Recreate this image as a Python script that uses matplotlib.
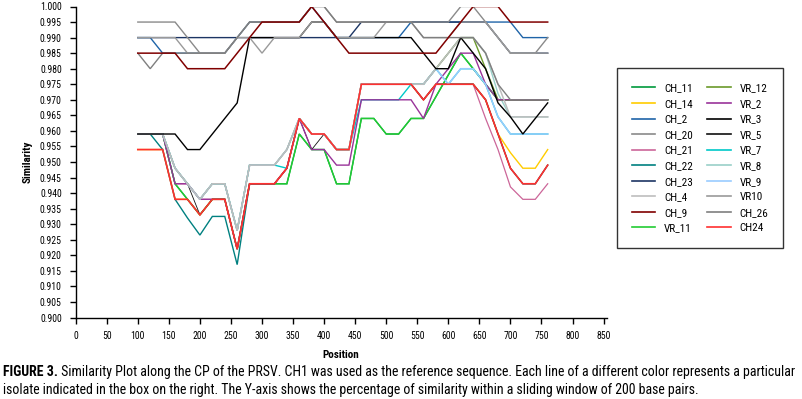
import matplotlib
matplotlib.use("Agg")
import matplotlib.pyplot as plt
from matplotlib import font_manager as fm
from matplotlib.lines import Line2D
import numpy as np

# ---------------- data ----------------
positions = [100, 120, 140, 160, 180, 200, 220, 240, 260, 280, 300, 320, 340, 360, 380, 400, 420,
             440, 460, 480, 500, 520, 540, 560, 580, 600, 620, 640, 660, 680, 700, 720, 740, 760]

CH_11 = [0.959, 0.959, 0.959, 0.943, 0.938, 0.933, 0.938, 0.938, 0.922, 0.943, 0.943, 0.943, 0.943, 0.959, 0.954, 0.954, 0.943,
         0.943, 0.964, 0.964, 0.959, 0.959, 0.964, 0.964, 0.971, 0.978, 0.985, 0.980, 0.975, 0.970, 0.970, 0.970, 0.970, 0.970]
CH_14 = [0.954, 0.954, 0.954, 0.938, 0.938, 0.933, 0.938, 0.938, 0.922, 0.943, 0.943, 0.943, 0.948, 0.964, 0.959, 0.959, 0.954,
         0.954, 0.975, 0.975, 0.975, 0.975, 0.975, 0.970, 0.975, 0.975, 0.975, 0.975, 0.970, 0.959, 0.953, 0.948, 0.948, 0.954]
CH_2 = [0.990, 0.990, 0.985, 0.985, 0.985, 0.985, 0.985, 0.985, 0.990, 0.995, 0.995, 0.995, 0.995, 0.995, 1.000, 0.995, 0.990,
        0.990, 0.990, 0.990, 0.990, 0.990, 0.995, 0.995, 0.995, 0.995, 0.995, 0.995, 0.995, 0.995, 0.995, 0.990, 0.990, 0.990]
CH_20 = [0.995, 0.995, 0.995, 0.995, 0.990, 0.985, 0.985, 0.985, 0.990, 0.995, 0.995, 0.995, 0.995, 0.995, 1.000, 1.000, 0.995,
         0.995, 0.995, 0.995, 0.995, 0.995, 0.995, 0.995, 0.995, 0.995, 1.000, 1.000, 0.995, 0.990, 0.985, 0.985, 0.985, 0.990]
CH_21 = [0.959, 0.959, 0.959, 0.943, 0.943, 0.938, 0.938, 0.938, 0.922, 0.943, 0.943, 0.943, 0.948, 0.964, 0.959, 0.959, 0.954,
         0.954, 0.975, 0.975, 0.975, 0.975, 0.975, 0.970, 0.975, 0.975, 0.975, 0.975, 0.964, 0.954, 0.942, 0.938, 0.938, 0.943]
CH_22 = [0.959, 0.959, 0.954, 0.938, 0.932, 0.9265, 0.9325, 0.9325, 0.917, 0.943, 0.943, 0.943, 0.948, 0.964, 0.959, 0.959, 0.954,
         0.954, 0.975, 0.975, 0.975, 0.975, 0.975, 0.970, 0.975, 0.975, 0.975, 0.975, 0.970, 0.959, 0.948, 0.943, 0.943, 0.949]
CH_23 = [0.990, 0.990, 0.990, 0.990, 0.990, 0.990, 0.990, 0.990, 0.990, 0.990, 0.990, 0.990, 0.990, 0.990, 0.990, 0.990, 0.990,
         0.990, 0.995, 0.995, 0.995, 0.995, 0.995, 0.995, 0.995, 0.995, 0.995, 0.995, 0.995, 0.990, 0.985, 0.985, 0.985, 0.985]
CH_4 = [0.959, 0.959, 0.959, 0.948, 0.943, 0.938, 0.943, 0.943, 0.928, 0.949, 0.949, 0.949, 0.954, 0.964, 0.959, 0.959, 0.954,
        0.954, 0.975, 0.975, 0.975, 0.975, 0.975, 0.975, 0.980, 0.985, 0.990, 0.990, 0.985, 0.975, 0.9645, 0.9645, 0.9645, 0.9645]
CH_9 = [0.985, 0.985, 0.985, 0.985, 0.980, 0.980, 0.980, 0.980, 0.985, 0.990, 0.995, 0.995, 0.995, 0.995, 1.000, 0.995, 0.990,
        0.985, 0.985, 0.985, 0.985, 0.985, 0.985, 0.985, 0.985, 0.990, 0.995, 1.000, 1.000, 1.000, 0.995, 0.995, 0.995, 0.995]
VR_11 = [0.959, 0.959, 0.959, 0.943, 0.938, 0.933, 0.938, 0.938, 0.922, 0.943, 0.943, 0.943, 0.943, 0.959, 0.954, 0.954, 0.943,
         0.943, 0.964, 0.964, 0.959, 0.959, 0.964, 0.964, 0.971, 0.978, 0.985, 0.980, 0.975, 0.970, 0.970, 0.970, 0.970, 0.970]
VR_12 = [0.959, 0.959, 0.959, 0.948, 0.943, 0.938, 0.943, 0.943, 0.928, 0.949, 0.949, 0.949, 0.954, 0.964, 0.959, 0.959, 0.954,
         0.954, 0.975, 0.975, 0.975, 0.975, 0.975, 0.975, 0.980, 0.985, 0.990, 0.990, 0.980, 0.970, 0.970, 0.970, 0.970, 0.970]
VR_2 = [0.959, 0.959, 0.959, 0.943, 0.943, 0.938, 0.938, 0.938, 0.922, 0.943, 0.943, 0.943, 0.948, 0.964, 0.954, 0.954, 0.949,
        0.949, 0.970, 0.970, 0.970, 0.970, 0.970, 0.964, 0.975, 0.980, 0.985, 0.985, 0.975, 0.970, 0.970, 0.970, 0.970, 0.970]
VR_3 = [0.959, 0.959, 0.959, 0.959, 0.954, 0.954, 0.959, 0.964, 0.969, 0.990, 0.990, 0.990, 0.990, 0.990, 0.995, 0.995, 0.990,
        0.990, 0.990, 0.990, 0.990, 0.990, 0.990, 0.985, 0.980, 0.980, 0.990, 0.985, 0.980, 0.969, 0.9645, 0.959, 0.964, 0.969]
VR_5 = [0.959, 0.959, 0.959, 0.948, 0.943, 0.933, 0.938, 0.938, 0.922, 0.943, 0.943, 0.943, 0.948, 0.964, 0.954, 0.959, 0.954,
        0.954, 0.975, 0.975, 0.975, 0.975, 0.975, 0.970, 0.975, 0.975, 0.975, 0.975, 0.970, 0.959, 0.948, 0.943, 0.943, 0.949]
VR_7 = [0.959, 0.959, 0.959, 0.948, 0.943, 0.938, 0.943, 0.943, 0.928, 0.949, 0.949, 0.949, 0.948, 0.964, 0.959, 0.959, 0.954,
        0.954, 0.970, 0.970, 0.970, 0.970, 0.975, 0.975, 0.980, 0.975, 0.980, 0.980, 0.975, 0.9645, 0.959, 0.959, 0.959, 0.959]
VR_8 = [0.959, 0.959, 0.959, 0.948, 0.943, 0.938, 0.943, 0.943, 0.928, 0.949, 0.949, 0.949, 0.954, 0.964, 0.959, 0.959, 0.954,
        0.954, 0.975, 0.975, 0.975, 0.975, 0.975, 0.975, 0.980, 0.985, 0.990, 0.990, 0.985, 0.972, 0.9645, 0.9645, 0.9645, 0.9645]
VR_9 = [0.959, 0.959, 0.959, 0.948, 0.943, 0.938, 0.943, 0.943, 0.928, 0.949, 0.949, 0.949, 0.954, 0.964, 0.959, 0.959, 0.954,
        0.954, 0.975, 0.975, 0.975, 0.975, 0.975, 0.975, 0.980, 0.975, 0.980, 0.980, 0.975, 0.9645, 0.959, 0.959, 0.959, 0.959]
VR10 = [0.990, 0.990, 0.990, 0.990, 0.985, 0.985, 0.985, 0.985, 0.990, 0.990, 0.985, 0.990, 0.990, 0.990, 0.995, 0.995, 0.990,
        0.990, 0.990, 0.990, 0.995, 0.995, 0.995, 0.990, 0.990, 0.990, 0.995, 0.995, 0.995, 0.990, 0.985, 0.985, 0.985, 0.985]
CH_26 = [0.985, 0.980, 0.985, 0.985, 0.985, 0.985, 0.985, 0.985, 0.990, 0.995, 0.995, 0.995, 0.995, 0.995, 1.000, 1.000, 0.995,
         0.995, 0.995, 0.995, 0.995, 0.995, 0.995, 0.990, 0.990, 0.990, 0.990, 0.990, 0.985, 0.975, 0.970, 0.970, 0.970, 0.970]
CH24 = [0.954, 0.954, 0.954, 0.938, 0.938, 0.933, 0.938, 0.938, 0.922, 0.943, 0.943, 0.943, 0.948, 0.964, 0.959, 0.959, 0.954,
        0.954, 0.975, 0.975, 0.975, 0.975, 0.975, 0.970, 0.975, 0.975, 0.975, 0.975, 0.970, 0.959, 0.948, 0.943, 0.943, 0.949]

series_labels = ["CH_11", "CH_14", "CH_2", "CH_20", "CH_21", "CH_22", "CH_23", "CH_4", "CH_9", "VR_11",
                 "VR_12", "VR_2", "VR_3", "VR_5", "VR_7", "VR_8", "VR_9", "VR10", "CH_26", "CH24"]
series_values = [CH_11, CH_14, CH_2, CH_20, CH_21, CH_22, CH_23, CH_4, CH_9, VR_11,
                 VR_12, VR_2, VR_3, VR_5, VR_7, VR_8, VR_9, VR10, CH_26, CH24]
series_colors = ["#009a3c", "#ffcc00", "#1f64a8", "#8a8a8a", "#cc6699", "#008080", "#1c3564", "#bdbdbd",
                 "#800000", "#22cc33", "#6b9a2a", "#993399", "#000000", "#111111", "#00c8c8", "#99d0c8",
                 "#99ccff", "#9a9a9a", "#7f7f7f", "#ff3030"]
series_widths = [1.0, 1.0, 1.0, 1.0, 0.9, 1.0, 1.0, 1.1, 1.1, 1.0,
                 1.0, 1.0, 1.0, 0.6, 1.0, 1.0, 1.1, 1.0, 1.0, 1.2]
draw_order = [1, 4, 5, 0, 9, 13, 14, 15, 10, 11, 16, 7, 2, 6, 12, 3, 17, 18, 8, 19]

x_ticks = list(range(0, 851, 50))
y_ticks = [0.900 + 0.005 * i for i in range(21)]

caption_bold = "FIGURE 3."
caption_line1 = (" Similarity Plot along the CP of the PRSV. CH1 was used as the reference sequence. "
                 "Each line of a different color represents a particular")
caption_line2 = ("isolate indicated in the box on the right. The Y-axis shows the percentage of similarity "
                 "within a sliding window of 200 base pairs.")

# ---------------- fonts ----------------
def pick_font(bold):
    prefs = ["Liberation Sans Narrow", "Roboto Condensed", "DejaVu Sans", "Noto Sans", "Open Sans"]
    cands = []
    for f in fm.fontManager.ttflist:
        st = str(f.stretch).lower()
        condensed = ("narrow" in f.name.lower() or "condensed" in f.name.lower()
                     or "condensed" in st or (st.isdigit() and int(st) < 500)
                     or "condensed" in f.fname.lower() or "narrow" in f.fname.lower())
        if not condensed:
            continue
        w = f.weight
        try:
            w = int(w)
        except Exception:
            w = 700 if "bold" in str(w).lower() else 400
        if ("italic" in str(f.style).lower()) or ("oblique" in str(f.style).lower()):
            continue
        if "semi" in f.fname.lower() or "extra" in f.fname.lower() or "ultra" in f.fname.lower():
            continue
        if bold and w < 600:
            continue
        if (not bold) and w != 400:
            continue
        rank = len(prefs)
        for i, p in enumerate(prefs):
            if f.name.startswith(p):
                rank = i
                break
        cands.append((rank, f.fname))
    if cands:
        cands.sort()
        return fm.FontProperties(fname=cands[0][1])
    return fm.FontProperties(family="Liberation Sans", weight="bold" if bold else "normal")

fp_reg = pick_font(False)
fp_bold = pick_font(True)

def fprop(base, size):
    p = base.copy()
    p.set_size(size)
    return p

# ---------------- figure ----------------
W, H = 802, 399
fig = plt.figure(figsize=(W / 100, H / 100), dpi=100)
ax = fig.add_axes([75.7 / W, (H - 317.5) / H, 531 / W, 311 / H])

for n, k in enumerate(draw_order):
    ax.plot(positions, series_values[k], color=series_colors[k], lw=series_widths[k],
            solid_joinstyle="miter", zorder=2 + n * 0.01)

ax.set_xlim(0, 855)
ax.set_ylim(0.9, 1.0)
ax.set_xticks(x_ticks)
ax.set_xticklabels([str(v) for v in x_ticks], fontproperties=fprop(fp_reg, 7))
ax.set_yticks(y_ticks)
ax.set_yticklabels([f"{v:.3f}" for v in y_ticks], fontproperties=fprop(fp_reg, 7))
for s in ["top", "right"]:
    ax.spines[s].set_visible(False)
for s in ["left", "bottom"]:
    ax.spines[s].set_linewidth(1.0)
ax.tick_params(length=4, width=1.0, pad=6, colors="#000000")

ax.set_xlabel("Position", fontproperties=fprop(fp_bold, 8), labelpad=6)
ax.set_ylabel("Similarity", fontproperties=fprop(fp_bold, 8), labelpad=5)

handles = [Line2D([], [], color=series_colors[i], lw=1.2) for i in range(len(series_labels))]
leg = fig.legend(handles, series_labels, loc="upper left", bbox_to_anchor=(616.7 / W, 1 - 68.3 / H),
                 ncol=2, frameon=True, fancybox=False, prop=fprop(fp_reg, 8),
                 handlelength=2.1, handletextpad=0.8, columnspacing=1.3, labelspacing=0.5,
                 borderpad=1.35, borderaxespad=0.0)
leg.get_frame().set_edgecolor("#000000")
leg.get_frame().set_linewidth(1.0)

# caption
fig.canvas.draw()
r = fig.canvas.get_renderer()
size = 10.0
for _ in range(3):
    tb = fig.text(3 / W, 1 - 372 / H, caption_bold, fontproperties=fprop(fp_bold, size), va="center", ha="left")
    tr = fig.text(0, 0, caption_line1, fontproperties=fprop(fp_reg, size), va="center", ha="left")
    wb = tb.get_window_extent(r).width
    wr = tr.get_window_extent(r).width
    tb.remove()
    tr.remove()
    size = size * 796.0 / (wb + wr)
tb = fig.text(3 / W, 1 - 372 / H, caption_bold, fontproperties=fprop(fp_bold, size), va="center", ha="left")
wb = tb.get_window_extent(r).width
fig.text((3 + wb) / W, 1 - 372 / H, caption_line1, fontproperties=fprop(fp_reg, size), va="center", ha="left")
fig.text(3 / W, 1 - 390 / H, caption_line2, fontproperties=fprop(fp_reg, size), va="center", ha="left")

fig.savefig("out.png", dpi=100)
